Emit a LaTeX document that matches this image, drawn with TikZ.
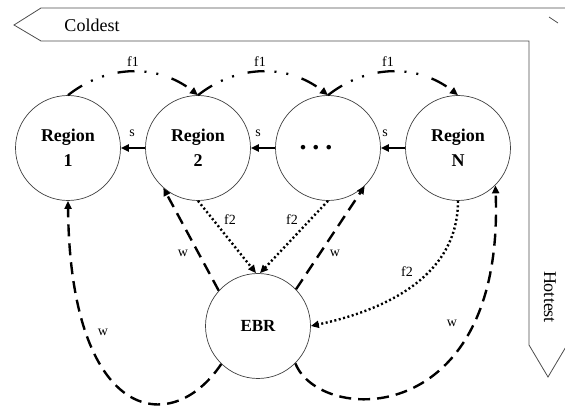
\documentclass[tikz,border=0pt]{standalone}
\usepackage{fontspec}
\setmainfont{Liberation Serif}
\usetikzlibrary{arrows.meta}

\tikzset{
  region/.style={circle,draw=black!75,line width=0.7pt,minimum size=105pt,inner sep=0pt,
    align=center,font=\bfseries\fontsize{18}{25}\selectfont},
  lbl/.style={font=\fontsize{14}{16}\selectfont,inner sep=0pt},
  tip/.style={-{Triangle[length=8pt,width=7pt]}},
  sflow/.style={tip,line width=2.2pt},
  fone/.style={tip,line width=2.3pt,dash pattern=on 17pt off 10pt on 2pt off 10pt on 2pt off 14pt},
  ftwo/.style={tip,line width=2.4pt,dash pattern=on 2pt off 2.5pt},
  wflow/.style={tip,line width=2.4pt,dash pattern=on 12pt off 7pt},
  band/.style={draw=black!70,line width=0.8pt}
}

\begin{document}
\begin{tikzpicture}[x=1pt,y=1pt]
\useasboundingbox (0,0) rectangle (565,407);
% cold -> hot band
\begin{scope}
\clip (0,0) rectangle (565,407);
\draw [band] (575,399) -- (41,399) -- (14,382) -- (41,366) -- (529,366)
   -- (529,62) -- (548,30) -- (567,62);
\draw [band] (549,390) -- (558,384);
\end{scope}
\node [font=\fontsize{18}{20}\selectfont] (cold) at (92,382) {Coldest};
\node [font=\fontsize{18}{20}\selectfont,rotate=-90] (hot) at (550,110) {Hottest};
% regions
\node [region] (r1) at (68,259) {Region\\1};
\node [region] (r2) at (198,259) {Region\\2};
\node [region] (rdots) at (328,259) {\fontsize{28}{28}\selectfont .\hspace{6pt}.\hspace{6pt}.\hspace*{24pt}};
\node [region] (rN) at (458,259) {Region\\N};
\node [region,font=\bfseries\fontsize{17}{20}\selectfont] (ebr) at (258,81) {EBR};
% s
\draw [sflow] (r2) -- (r1);
\draw [sflow] (rdots) -- (r2);
\draw [sflow] (rN) -- (rdots);
\node [lbl] (s1) at (132,274) {s};
\node [lbl] (s2) at (258,274) {s};
\node [lbl] (s3) at (385,274) {s};
% f1
\draw [fone] (r1.north) to [bend left=38] (r2.north);
\draw [fone] (r2.north) to [bend left=38] (rdots.north);
\draw [fone] (rdots.north) to [bend left=38] (rN.north);
\node [lbl] (fa) at (133,345) {f1};
\node [lbl] (fb) at (260,345) {f1};
\node [lbl] (fc) at (388,345) {f1};
% f2
\draw [ftwo] (r2.south) -- ([xshift=-2pt]ebr.north);
\draw [ftwo] (rdots.south) -- ([xshift=2pt]ebr.north);
\draw [ftwo] (rN.south) to [out=-90,in=12] (ebr.east);
\node [lbl] (fd) at (230,187) {f2};
\node [lbl] (fe) at (292,187) {f2};
\node [lbl] (ff) at (407,135) {f2};
% w
\draw [wflow] (ebr.138) -- (r2.-131);
\draw [wflow] (ebr.44) -- (rdots.-46);
\draw [wflow] (ebr.-134) .. controls (170,-33) and (70,-13) .. (r1.south);
\draw [wflow] (ebr.-45) .. controls (320,-18) and (505,-23) .. (rN.-45);
\node [lbl] (wa) at (183,154) {w};
\node [lbl] (wb) at (335,154) {w};
\node [lbl] (wc) at (103,75) {w};
\node [lbl] (wd) at (452,84) {w};
\end{tikzpicture}
\end{document}
